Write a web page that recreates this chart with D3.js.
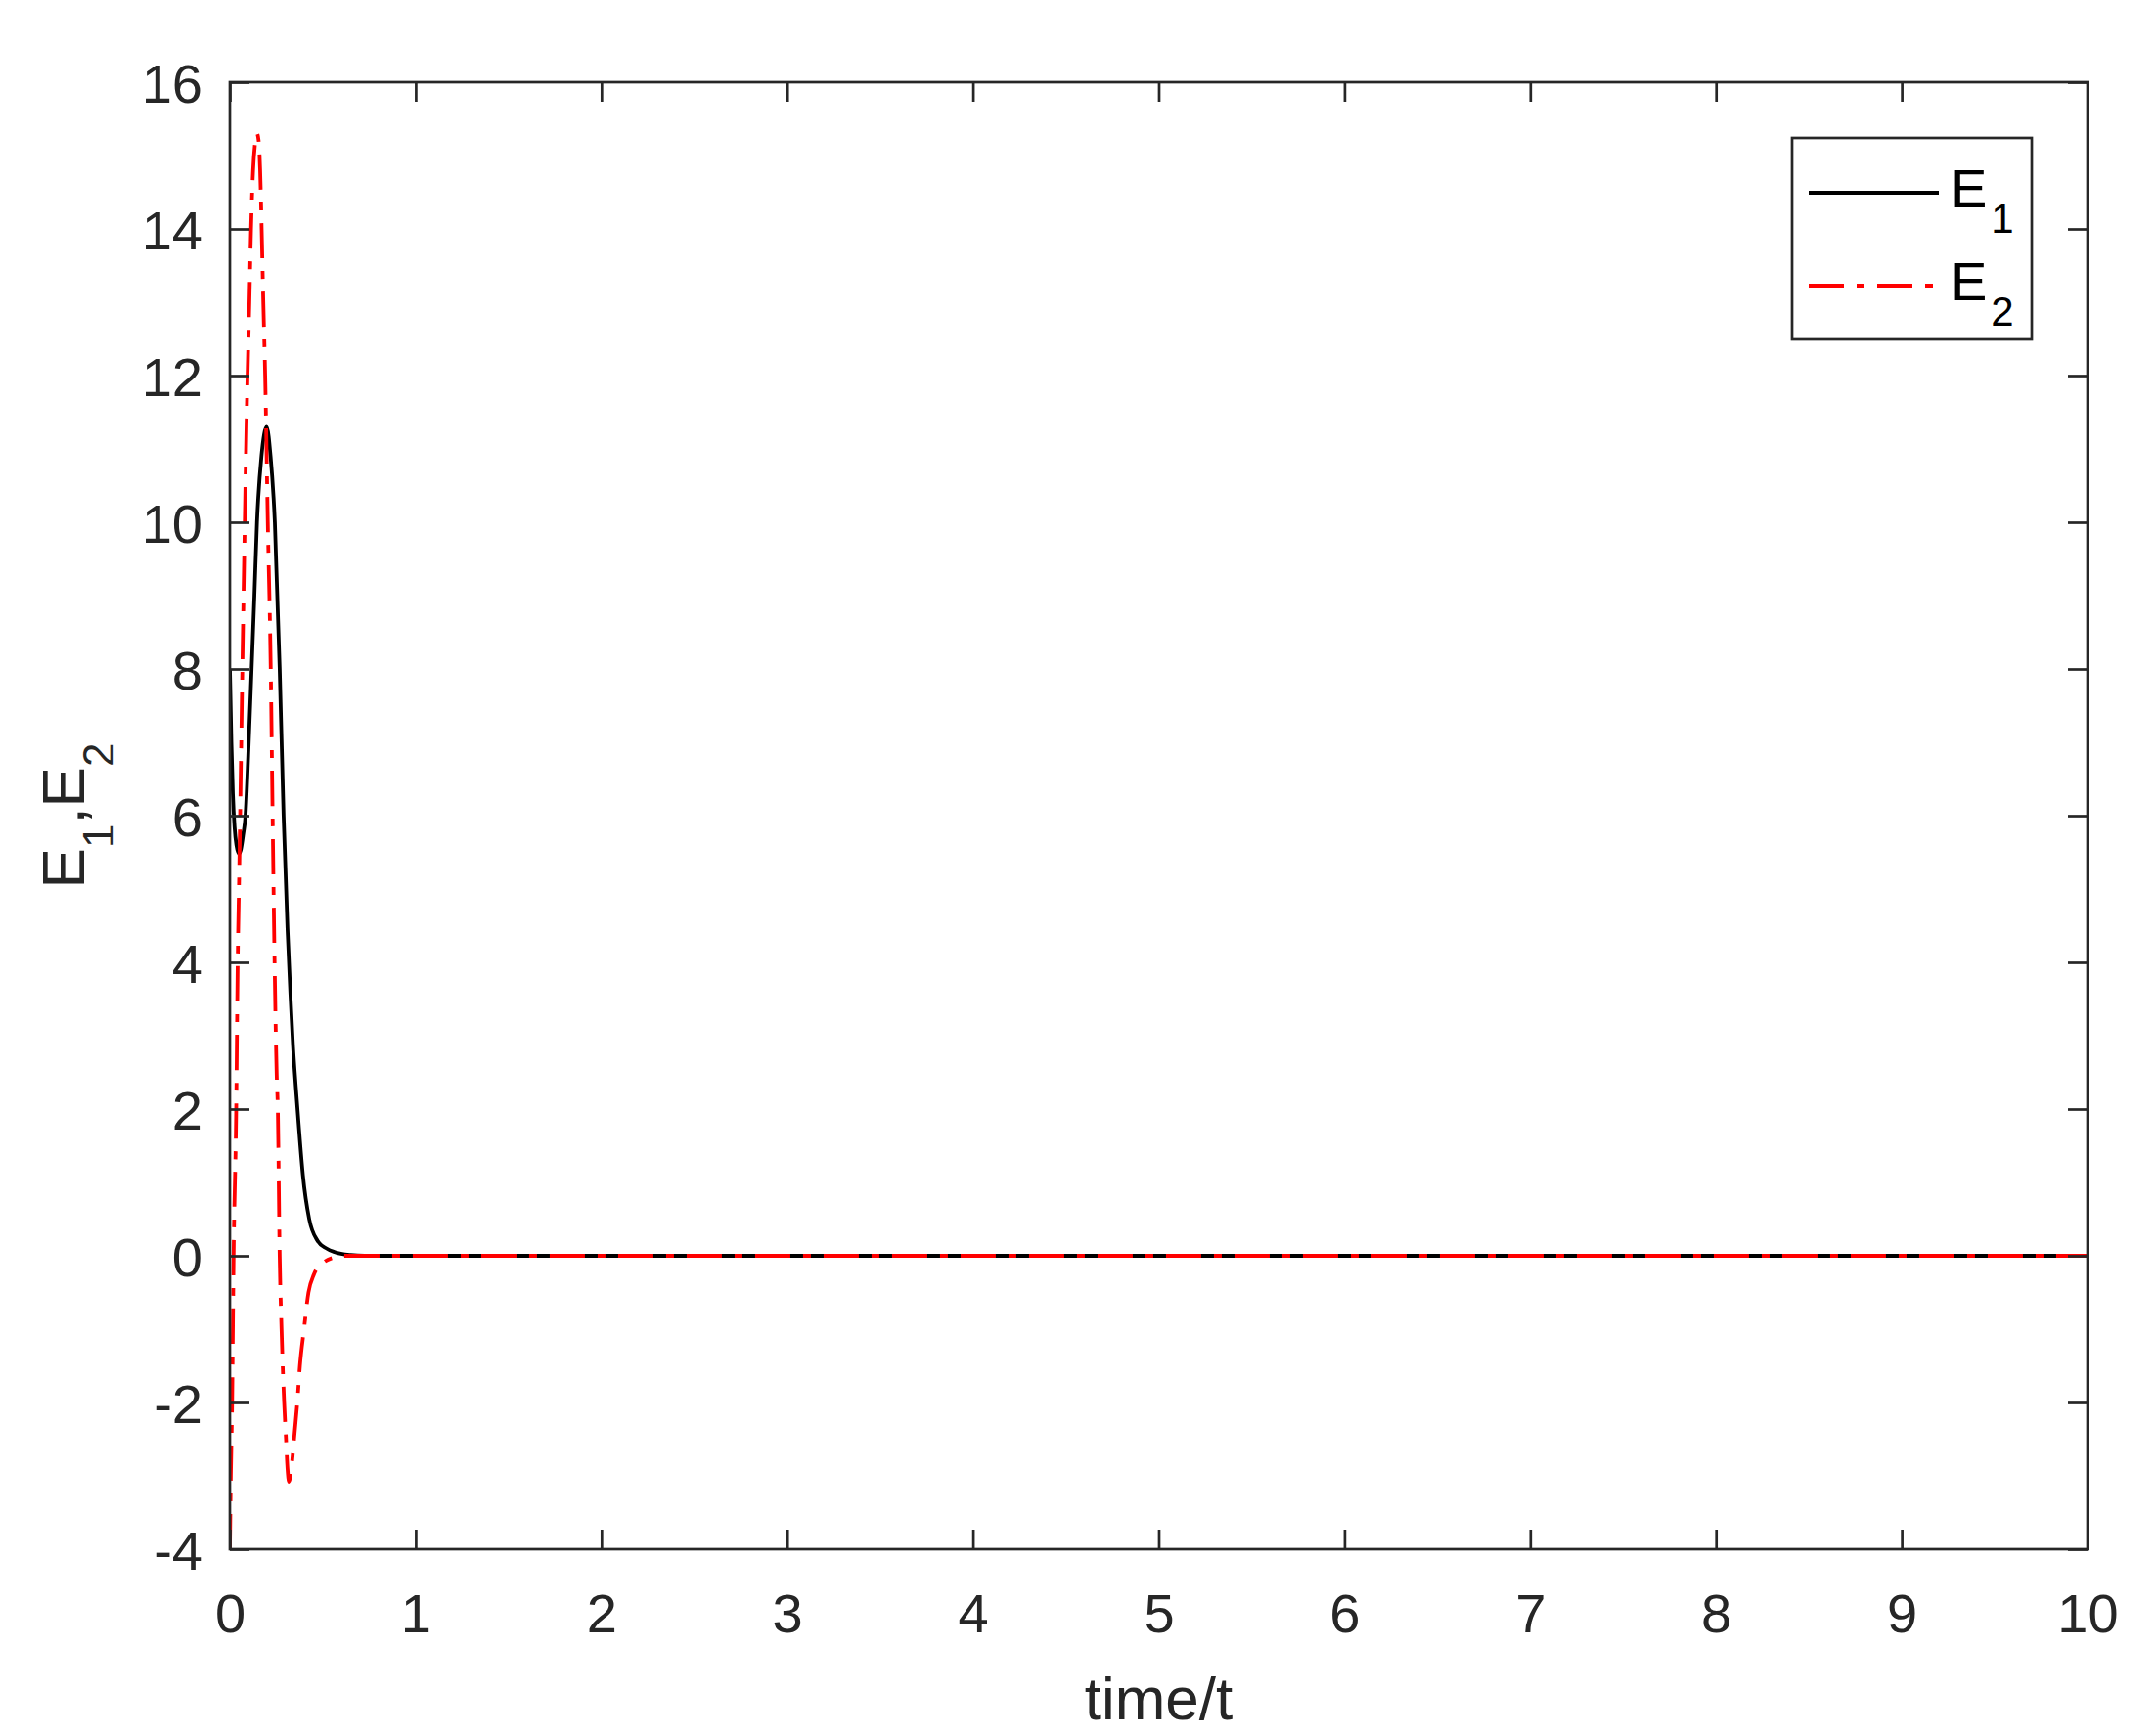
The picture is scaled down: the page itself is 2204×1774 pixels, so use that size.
<!DOCTYPE html>
<html>
<head>
<meta charset="utf-8">
<script src="https://cdn.jsdelivr.net/npm/d3@7/dist/d3.min.js"></script>
<style>
  html, body { margin: 0; padding: 0; background: #fff; }
  svg { display: block; font-family: "Liberation Sans", Arial, sans-serif; }
</style>
</head>
<body>
<svg id="chart" width="2204" height="1774"></svg>
<script>
// ---- data ----
const e1Time  = [0, 0.008, 0.016, 0.025, 0.035, 0.049, 0.06, 0.072, 0.084, 0.1, 0.117, 0.132, 0.146, 0.17, 0.198, 0.219, 0.242, 0.268, 0.289, 0.31, 0.325, 0.34, 0.355, 0.37, 0.393, 0.427, 0.473, 0.52, 0.564, 0.65, 0.725, 1, 2, 3, 4, 5, 6, 7, 8, 9, 10];
const e1Value = [8.0, 7.0, 6.3, 5.85, 5.6, 5.48, 5.55, 5.75, 6.0, 6.9, 8.0, 9.0, 10.0, 10.9, 11.3, 10.9, 10.0, 8.0, 6.0, 4.46, 3.6, 2.85, 2.3, 1.8, 1.1, 0.5, 0.2, 0.1, 0.05, 0.01, 0, 0, 0, 0, 0, 0, 0, 0, 0, 0, 0];

const e2Time  = [0, 0.005, 0.012, 0.02, 0.034, 0.042, 0.05, 0.055, 0.067, 0.08, 0.095, 0.105, 0.114, 0.125, 0.135, 0.146, 0.155, 0.163, 0.171, 0.18, 0.19, 0.204, 0.22, 0.23, 0.238, 0.252, 0.258, 0.268, 0.278, 0.292, 0.302, 0.31, 0.318, 0.326, 0.335, 0.348, 0.363, 0.377, 0.399, 0.423, 0.453, 0.5, 0.564, 0.6, 1, 2, 3, 4, 5, 6, 7, 8, 9, 10];
const e2Value = [-4.0, -3.0, -2.0, 0.0, 2.0, 4.0, 5.2, 6.0, 8.0, 10.0, 12.0, 13.0, 14.0, 14.8, 15.15, 15.3, 15.2, 14.8, 14.0, 13.0, 12.0, 10.0, 8.0, 6.0, 4.46, 2.46, 2.0, 0.0, -1.0, -2.0, -2.5, -2.9, -3.08, -3.0, -2.8, -2.43, -2.0, -1.5, -1.0, -0.5, -0.25, -0.1, -0.02, 0, 0, 0, 0, 0, 0, 0, 0, 0, 0, 0];

const xTicks = [0, 1, 2, 3, 4, 5, 6, 7, 8, 9, 10];
const yTicks = [-4, -2, 0, 2, 4, 6, 8, 10, 12, 14, 16];
const xLabel = "time/t";
const legendNames = ["E", "E"];
const legendSubs = ["1", "2"];

// ---- layout ----
const L = 235, R = 2134, T = 84, B = 1584;
const axisColor = "#262626";
const svg = d3.select("#chart");

const x = d3.scaleLinear().domain([0, 10]).range([L, R]);
const y = d3.scaleLinear().domain([-4, 16]).range([B, T]);

svg.append("rect").attr("width", 2204).attr("height", 1774).attr("fill", "#fff");

svg.append("defs").append("clipPath").attr("id", "clip")
  .append("rect").attr("x", L).attr("y", T).attr("width", R - L).attr("height", B - T);

// ---- lines ----
const line = d3.line().x(d => x(d[0])).y(d => y(d[1])).curve(d3.curveMonotoneX);
const e1 = e1Time.map((t, i) => [t, e1Value[i]]);
const e2 = e2Time.map((t, i) => [t, e2Value[i]]);

const plot = svg.append("g").attr("clip-path", "url(#clip)");
plot.append("path").datum(e1).attr("d", line)
  .attr("fill", "none").attr("stroke", "#000").attr("stroke-width", 3.8)
  .attr("stroke-linejoin", "round");
plot.append("path").datum(e2).attr("d", line)
  .attr("fill", "none").attr("stroke", "#ff0000").attr("stroke-width", 3.8)
  .attr("stroke-dasharray", "36,13,8,13");

// ---- axes ----
const tickLen = 20;
const fs = 56;
const fmt = d => String(d);
const axB = d3.axisBottom(x).tickValues(xTicks).tickSize(-tickLen).tickPadding(0).tickFormat(fmt);
const axT = d3.axisTop(x).tickValues(xTicks).tickSize(-tickLen).tickFormat("");
const axL = d3.axisLeft(y).tickValues(yTicks).tickSize(-tickLen).tickFormat(fmt);
const axR = d3.axisRight(y).tickValues(yTicks).tickSize(-tickLen).tickFormat("");

function style(g) {
  g.select(".domain").remove();
  g.selectAll(".tick line").attr("stroke", axisColor).attr("stroke-width", 2.7);
  g.selectAll(".tick text").attr("fill", axisColor).attr("font-size", fs)
    .attr("font-family", "Liberation Sans, Arial, sans-serif");
}
const gB = svg.append("g").attr("transform", `translate(0,${B})`).call(axB).call(style);
gB.selectAll(".tick text").attr("y", 85).attr("dy", null);
const gL = svg.append("g").attr("transform", `translate(${L},0)`).call(axL).call(style);
gL.selectAll(".tick text").attr("x", -28).attr("dy", "0.358em");
svg.append("g").attr("transform", `translate(0,${T})`).call(axT).call(style);
svg.append("g").attr("transform", `translate(${R},0)`).call(axR).call(style);

svg.append("rect").attr("x", L).attr("y", T).attr("width", R - L).attr("height", B - T)
  .attr("fill", "none").attr("stroke", axisColor).attr("stroke-width", 2.7);

// ---- axis labels ----
svg.append("text").attr("x", (L + R) / 2).attr("y", 1758).attr("text-anchor", "middle")
  .attr("font-size", 62).attr("fill", axisColor).text(xLabel);

const yl = svg.append("text")
  .attr("transform", `translate(86,${(T + B) / 2}) rotate(-90)`)
  .attr("text-anchor", "middle").attr("font-size", 62).attr("fill", axisColor);
yl.append("tspan").text("E");
yl.append("tspan").attr("font-size", 44).attr("dy", 30).text("1");
yl.append("tspan").attr("dy", -30).text(",E");
yl.append("tspan").attr("font-size", 44).attr("dy", 30).text("2");

// ---- legend ----
const lg = svg.append("g");
lg.append("rect").attr("x", 1832).attr("y", 141).attr("width", 245).attr("height", 206)
  .attr("fill", "#fff").attr("stroke", axisColor).attr("stroke-width", 2.7);
const legendStyles = [
  { color: "#000", dash: null, x2: 1982 },
  { color: "#ff0000", dash: "36,13,8,13", x2: 1977 }
];
[197, 292].forEach((ly, i) => {
  lg.append("line").attr("x1", 1849).attr("x2", legendStyles[i].x2).attr("y1", ly).attr("y2", ly)
    .attr("stroke", legendStyles[i].color).attr("stroke-width", 3.8)
    .attr("stroke-dasharray", legendStyles[i].dash);
  const t = lg.append("text").attr("x", 1994).attr("y", ly + 15).attr("font-size", 56).attr("fill", "#000");
  t.append("tspan").text(legendNames[i]);
  t.append("tspan").attr("font-size", 42).attr("dy", 26).attr("dx", 4).text(legendSubs[i]);
});
</script>
</body>
</html>
